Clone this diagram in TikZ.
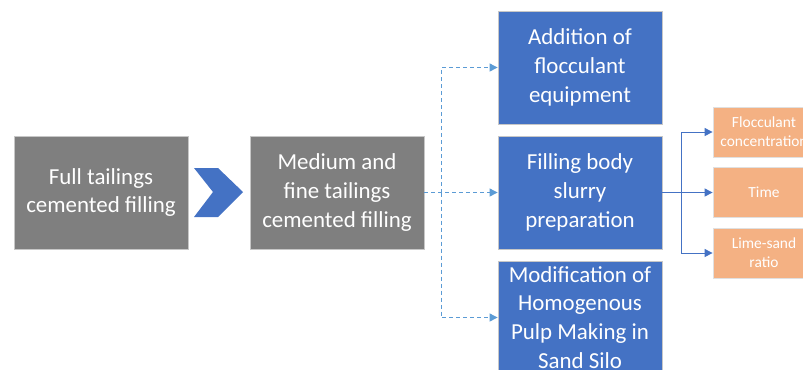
\documentclass[tikz,border=0pt]{standalone}
\usepackage{fontspec}
\setmainfont{Carlito}
\usetikzlibrary{arrows.meta}
\definecolor{boxgray}{HTML}{7F7F7F}
\definecolor{boxblue}{HTML}{4472C4}
\definecolor{boxorange}{HTML}{F4B183}
\definecolor{linkblue}{HTML}{5B9BD5}
\begin{document}
\begin{tikzpicture}[x=1bp, y=-1bp,
		stagebox/.style={draw=black!22, line width=0.8bp, fill=boxgray, text=white, align=center, inner sep=0pt, minimum width=174bp, minimum height=113bp, font=\fontsize{23}{29}\selectfont},
		measbox/.style={stagebox, fill=boxblue, minimum width=164bp},
		factorbox/.style={draw=black!12, line width=0.8bp, fill=boxorange, text=white, align=center, inner sep=0pt, minimum width=102bp, minimum height=50bp, font=\fontsize{15.5}{19}\selectfont},
		dashlink/.style={linkblue, line width=0.9bp, dash pattern=on 4bp off 3bp, -{Triangle[length=8bp,width=8bp]}},
		forklink/.style={boxblue, line width=1bp, -{Triangle[length=8bp,width=8bp]}}]
	\useasboundingbox (0,0) rectangle (803,369);
	% two filling methods
	\node[stagebox] (full) at (101,192.5) {Full tailings\\cemented filling};
	\node[stagebox] (medium) at (337,192.5) {Medium and\\fine tailings\\cemented filling};
	\fill[boxblue] (194,168) -- (218,168) -- (243,192) -- (218,217) -- (194,217) -- (213,192) -- cycle;
	% measures
	\node[measbox] (flocc) at (580,67.5) {Addition of\\flocculant\\equipment};
	\node[measbox] (slurry) at (580,192.5) {Filling body\\slurry\\preparation};
	\node[measbox] (silo) at (580,317.5) {Modification of\\Homogenous\\Pulp Making in\\Sand Silo};
	% factors
	\node[factorbox] (conc) at (764,132) {Flocculant\\concentration};
	\node[factorbox] (time) at (764,192.5) {Time};
	\node[factorbox] (ratio) at (764,253) {Lime-sand\\ratio};
	% connectors
	\coordinate (split) at (441,192.5);
	\coordinate (fork) at (681,192.5);
	\draw[dashlink] (medium.east) -- (slurry.west);
	\draw[dashlink] (split) |- (flocc.west);
	\draw[dashlink] (split) |- (silo.west);
	\draw[forklink] (slurry.east) -- (time.west);
	\draw[forklink] (fork) |- (conc.west);
	\draw[forklink] (fork) |- (ratio.west);
\end{tikzpicture}
\end{document}
